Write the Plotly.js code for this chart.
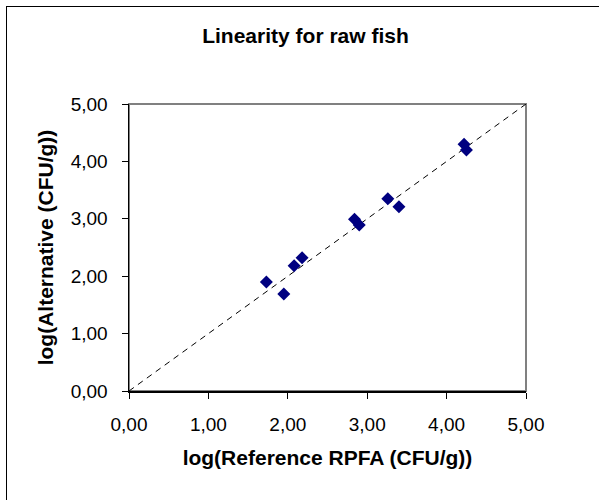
<!DOCTYPE html>
<html>
<head>
<meta charset="utf-8">
<script src="https://cdn.plot.ly/plotly-3.0.1.min.js"></script>
<style>
  html, body { margin: 0; padding: 0; background: #fff; overflow: hidden; }
  #wrap { position: relative; width: 599px; height: 500px; overflow: hidden; }
  #chart { width: 599px; height: 500px; }
  #frame { position: absolute; left: 6px; top: 6px; width: 700px; height: 700px;
           border-left: 1.5px solid #000; border-top: 1.5px solid #000; pointer-events: none; }
</style>
</head>
<body>
<div id="wrap">
  <div id="chart"></div>
  <div id="frame"></div>
</div>
<script>
// Data
const referenceLog = [1.73, 1.95, 2.08, 2.18, 2.84, 2.90, 3.26, 3.40, 4.22, 4.25];
const alternativeLog = [1.90, 1.69, 2.18, 2.32, 2.99, 2.89, 3.35, 3.21, 4.30, 4.20];
const identityX = [0, 5];
const identityY = [0, 5];
const tickValues = [0, 1, 2, 3, 4, 5];

const titleText = 'Linearity for raw fish';
const xTitle = 'log(Reference RPFA (CFU/g))';
const yTitle = 'log(Alternative (CFU/g))';

const font = 'Liberation Sans, Arial, sans-serif';

const traces = [
  {
    x: identityX, y: identityY, type: 'scatter', mode: 'lines',
    line: { color: '#000', width: 1, dash: '6px,5px' },
    hoverinfo: 'skip', showlegend: false
  },
  {
    x: referenceLog, y: alternativeLog, type: 'scatter', mode: 'markers',
    marker: { symbol: 'diamond', color: '#000080', size: 10, line: { width: 0 } },
    showlegend: false
  }
];

const axisCommon = {
  range: [0, 5], tickvals: tickValues, tickformat: '.2f',
  showgrid: false, zeroline: false,
  showline: true, linecolor: '#000', linewidth: 1.5,
  ticks: 'outside', ticklen: 6, tickwidth: 1, tickcolor: '#000',
  tickfont: { family: font, size: 19, color: '#000' },
  fixedrange: true
};

const layout = {
  width: 599, height: 500,
  margin: { l: 129, r: 73, t: 104, b: 109 },
  paper_bgcolor: '#fff', plot_bgcolor: '#fff',
  separators: ', ',
  font: { family: font, color: '#000' },
  title: {
    text: '<b>' + titleText + '</b>',
    font: { family: font, size: 21, color: '#000' },
    x: 0.51, xref: 'container', xanchor: 'center',
    y: 1 - 36 / 500, yref: 'container', yanchor: 'middle'
  },
  xaxis: Object.assign({}, axisCommon, {
    title: { text: '<b>' + xTitle + '</b>', font: { family: font, size: 21, color: '#000' }, standoff: 16 },
    ticklabelstandoff: 10
  }),
  yaxis: Object.assign({}, axisCommon, {
    title: { text: '<b>' + yTitle + '</b>', font: { family: font, size: 21, color: '#000' }, standoff: 11 },
    ticklabelstandoff: 10
  }),
  shapes: [{
    type: 'rect', xref: 'paper', yref: 'paper', x0: 0, y0: 0, x1: 1, y1: 1,
    line: { color: '#808080', width: 2 }, layer: 'below'
  }]
};

Plotly.newPlot('chart', traces, layout, { displayModeBar: false, staticPlot: true });
</script>
</body>
</html>
